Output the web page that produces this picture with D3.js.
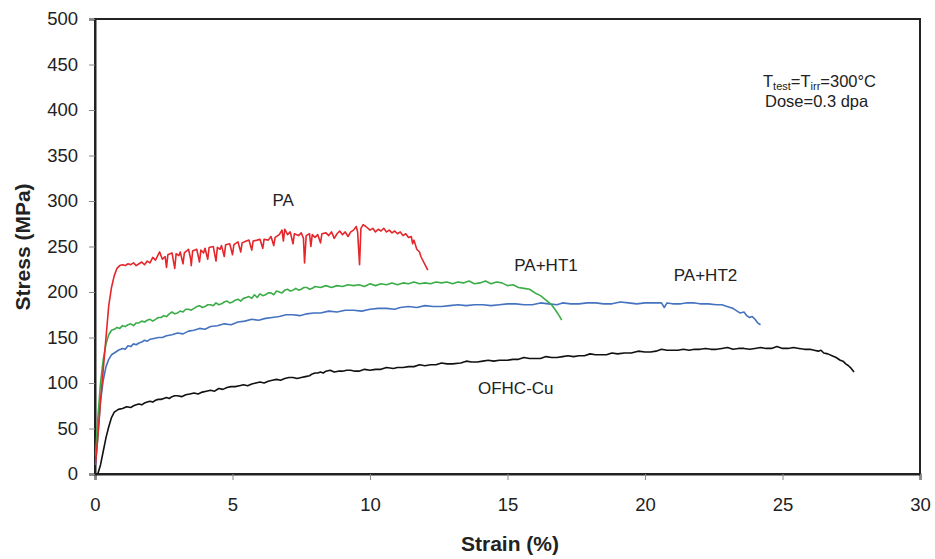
<!DOCTYPE html>
<html>
<head>
<meta charset="utf-8">
<script src="https://cdn.jsdelivr.net/npm/d3@7.8.5/dist/d3.min.js"></script>
<style>
  body { margin: 0; background: #fff; }
  svg { display: block; font-family: "Liberation Sans", Arial, sans-serif; }
</style>
</head>
<body>
<svg width="935" height="559"></svg>
<script>
// [strain %, stress MPa]
const pa = [
  [0.02,12],[0.1,40],[0.2,80],[0.3,115],[0.4,150],[0.5,185],[0.6,205],[0.7,218],[0.8,226],[0.9,229],
  [1.0,230],[1.1,229],[1.2,231],[1.3,230],[1.4,232],[1.5,229],[1.6,231],[1.7,233],[1.8,230],[1.9,234],
  [2.0,232],[2.1,238],[2.2,235],[2.3,241],[2.35,244],[2.45,236],[2.55,239],[2.6,227],[2.65,241],[2.8,243],
  [2.9,226],[2.95,242],[3.05,240],[3.1,244],[3.2,231],[3.25,243],[3.4,247],[3.48,236],[3.5,229],[3.55,245],
  [3.7,247],[3.8,233],[3.85,246],[3.95,243],[4.0,248],[4.1,236],[4.15,249],[4.3,250],[4.4,234],[4.45,249],
  [4.55,247],[4.6,251],[4.7,239],[4.75,252],[4.9,253],[5.0,241],[5.05,252],[5.2,255],[5.3,244],[5.35,254],
  [5.5,256],[5.6,257],[5.7,246],[5.75,256],[5.9,257],[6.0,258],[6.1,248],[6.15,258],[6.3,257],[6.4,261],
  [6.5,251],[6.55,260],[6.7,263],[6.8,268],[6.85,256],[6.9,269],[7.0,263],[7.1,266],[7.2,253],[7.25,264],
  [7.4,262],[7.5,265],[7.58,259],[7.62,232],[7.68,262],[7.8,264],[7.85,250],[7.9,263],[8.0,260],[8.1,263],
  [8.2,254],[8.25,264],[8.4,265],[8.5,262],[8.6,266],[8.7,259],[8.8,264],[8.9,267],[9.0,263],[9.1,266],
  [9.2,261],[9.3,266],[9.4,268],[9.5,272],[9.55,266],[9.62,230],[9.67,270],[9.75,274],[9.85,272],[10.0,268],
  [10.1,270],[10.2,266],[10.3,269],[10.4,267],[10.5,270],[10.6,266],[10.7,268],[10.8,265],[10.9,267],[11.0,264],
  [11.1,266],[11.2,262],[11.3,264],[11.4,260],[11.5,261],[11.55,253],[11.6,257],[11.7,247],[11.8,244],[11.85,239],
  [11.9,236],[12.0,230],[12.1,224]
];

const ht1 = [
  [0.02,20],[0.1,60],[0.2,100],[0.3,126],[0.4,143],[0.5,153],[0.6,158],[0.7,159],[0.8,161],[0.9,160],
  [1.0,163],[1.1,162],[1.2,164],[1.3,165],[1.4,163],[1.5,166],[1.6,166],[1.7,168],[1.8,167],[1.9,169],
  [2.0,170],[2.1,168],[2.2,170],[2.3,172],[2.4,172],[2.5,174],[2.6,173],[2.7,176],[2.8,178],[2.9,176],
  [3.0,177],[3.1,179],[3.2,178],[3.3,181],[3.4,181],[3.5,180],[3.6,182],[3.7,184],[3.8,185],[3.9,183],
  [4.0,184],[4.1,186],[4.2,186],[4.3,185],[4.4,188],[4.5,186],[4.6,187],[4.7,189],[4.8,190],[4.9,188],
  [5.0,189],[5.1,191],[5.2,192],[5.3,190],[5.4,193],[5.5,194],[5.6,195],[5.7,193],[5.8,197],[5.9,194],
  [6.0,198],[6.1,196],[6.2,197],[6.3,199],[6.4,199],[6.5,197],[6.6,201],[6.7,200],[6.8,199],[6.9,202],
  [7.0,203],[7.1,201],[7.2,202],[7.3,204],[7.4,202],[7.5,203],[7.6,205],[7.7,205],[7.8,203],[7.9,204],
  [8.0,206],[8.2,205],[8.4,207],[8.6,205],[8.8,207],[9.0,206],[9.2,208],[9.4,207],[9.6,208],[9.8,206],
  [10.0,209],[10.2,207],[10.4,209],[10.6,208],[10.8,210],[11.0,208],[11.2,210],[11.4,209],[11.6,211],[11.8,209],
  [12.0,210],[12.2,209],[12.4,211],[12.6,210],[12.8,211],[13.0,209],[13.2,211],[13.4,210],[13.6,212],[13.8,209],
  [14.0,210],[14.2,212],[14.4,209],[14.6,211],[14.8,210],[15.0,207],[15.2,208],[15.4,205],[15.6,204],[15.8,203],
  [16.0,199],[16.2,196],[16.4,191],[16.6,186],[16.75,180],[16.9,173],[16.97,169]
];

const ht2 = [
  [0.02,10],[0.1,40],[0.2,80],[0.3,103],[0.4,118],[0.5,126],[0.6,131],[0.7,133],[0.85,136],[1.0,138],
  [1.1,137],[1.2,141],[1.3,140],[1.4,143],[1.5,142],[1.6,144],[1.7,145],[1.8,147],[1.9,146],[2.0,148],
  [2.15,149],[2.3,150],[2.45,150],[2.6,152],[2.8,153],[3.0,155],[3.2,154],[3.4,157],[3.6,158],[3.8,160],
  [4.0,159],[4.2,162],[4.45,163],[4.7,165],[4.95,164],[5.2,167],[5.45,168],[5.7,170],[5.95,169],[6.2,171],
  [6.45,172],[6.7,173],[6.95,175],[7.2,175],[7.45,174],[7.7,176],[7.95,177],[8.2,177],[8.5,179],[8.8,178],
  [9.1,180],[9.4,180],[9.7,179],[10.0,181],[10.3,182],[10.6,182],[10.9,181],[11.1,183],[11.4,184],[11.7,183],
  [12.0,185],[12.3,184],[12.6,184],[12.9,185],[13.2,186],[13.5,185],[13.8,186],[14.1,186],[14.4,185],[14.7,186],
  [15.0,187],[15.3,187],[15.6,186],[15.9,186],[16.2,188],[16.5,187],[16.8,186],[17.0,188],[17.3,187],[17.6,187],
  [17.9,188],[18.2,188],[18.5,187],[18.8,187],[19.1,189],[19.4,188],[19.7,187],[20.0,188],[20.3,188],[20.6,188],
  [20.7,183],[20.8,188],[21.0,187],[21.3,187],[21.5,188],[21.8,188],[22.0,187],[22.3,187],[22.6,186],[22.8,186],
  [22.9,185],[23.1,183],[23.2,182],[23.35,179],[23.45,177],[23.6,178],[23.7,174],[23.8,172],[23.9,173],[24.0,170],
  [24.1,166],[24.2,164]
];

const ofhc = [
  [0.1,0],[0.2,10],[0.3,25],[0.4,40],[0.5,52],[0.6,62],[0.7,68],[0.85,71],[1.0,72],[1.15,74],
  [1.3,73],[1.4,75],[1.5,76],[1.6,77],[1.7,76],[1.8,78],[1.9,79],[2.0,80],[2.1,79],[2.2,81],
  [2.3,82],[2.4,82],[2.5,83],[2.6,84],[2.7,83],[2.8,85],[2.9,86],[3.0,86],[3.15,85],[3.3,87],
  [3.45,88],[3.6,89],[3.75,88],[3.9,90],[4.05,91],[4.2,92],[4.35,91],[4.5,94],[4.65,93],[4.8,95],
  [4.95,96],[5.1,96],[5.25,97],[5.4,98],[5.55,97],[5.7,99],[5.85,100],[6.0,101],[6.15,100],[6.3,102],
  [6.45,103],[6.6,104],[6.75,103],[6.9,105],[7.05,106],[7.2,106],[7.35,105],[7.5,106],[7.65,107],[7.8,108],
  [7.9,110],[8.0,111],[8.1,111],[8.2,112],[8.3,111],[8.4,113],[8.55,114],[8.7,112],[8.85,113],[9.0,113],
  [9.15,114],[9.3,114],[9.45,113],[9.6,113],[9.8,115],[10.0,114],[10.2,115],[10.4,115],[10.6,117],[10.85,116],
  [11.0,117],[11.2,117],[11.4,118],[11.6,118],[11.8,120],[12.0,119],[12.2,120],[12.4,120],[12.6,122],[12.8,121],
  [13.0,121],[13.3,122],[13.5,124],[13.7,123],[13.9,123],[14.1,124],[14.3,125],[14.5,124],[14.7,125],[15.0,125],
  [15.2,126],[15.4,126],[15.6,128],[15.8,127],[16.0,127],[16.2,127],[16.4,129],[16.6,128],[16.8,128],[17.0,129],
  [17.2,130],[17.4,129],[17.6,130],[17.8,130],[18.0,132],[18.2,131],[18.4,131],[18.6,131],[18.8,133],[19.0,132],
  [19.25,133],[19.5,133],[19.75,135],[20.0,134],[20.2,134],[20.4,135],[20.6,137],[20.8,136],[21.0,136],[21.2,136],
  [21.4,137],[21.6,136],[21.8,137],[22.0,137],[22.2,138],[22.4,137],[22.6,137],[22.8,138],[23.0,139],[23.2,137],
  [23.4,138],[23.6,138],[23.8,137],[24.0,138],[24.2,139],[24.4,138],[24.6,138],[24.8,140],[25.0,138],[25.2,138],
  [25.4,139],[25.6,138],[25.8,137],[26.0,137],[26.15,136],[26.3,135],[26.4,136],[26.5,133],[26.65,132],[26.8,130],
  [26.95,128],[27.1,125],[27.2,124],[27.3,121],[27.4,119],[27.5,116],[27.6,112]
];

const series = [
  { name: "OFHC-Cu", data: ofhc, color: "#111111" },
  { name: "PA+HT2", data: ht2, color: "#4573c0" },
  { name: "PA+HT1", data: ht1, color: "#3aad48" },
  { name: "PA", data: pa, color: "#e5262b" }
];

const labels = [
  { text: "PA", x: 6.84, y: 301 },
  { text: "PA+HT1", x: 16.4, y: 230 },
  { text: "PA+HT2", x: 22.2, y: 219 },
  { text: "OFHC-Cu", x: 15.3, y: 94 }
];

const xTicks = [0, 5, 10, 15, 20, 25, 30];
const yTicks = [0, 50, 100, 150, 200, 250, 300, 350, 400, 450, 500];

const margin = { left: 95, top: 19, right: 15, bottom: 85 };
const width = 935, height = 559;

const svg = d3.select("svg");

const x = d3.scaleLinear().domain([0, 30]).range([margin.left, width - margin.right]);
const y = d3.scaleLinear().domain([0, 500]).range([height - margin.bottom, margin.top]);

// frame
svg.append("rect")
  .attr("x", x(0)).attr("y", y(500))
  .attr("width", x(30) - x(0)).attr("height", y(0) - y(500))
  .attr("fill", "none").attr("stroke", "#222").attr("stroke-width", 2);

const xAxis = svg.append("g")
  .attr("transform", `translate(0,${y(0)})`)
  .call(d3.axisBottom(x).tickValues(xTicks).tickSize(6).tickPadding(18));
const yAxis = svg.append("g")
  .attr("transform", `translate(${x(0)},0)`)
  .call(d3.axisLeft(y).tickValues(yTicks).tickSize(6).tickPadding(11));

[xAxis, yAxis].forEach(g => {
  g.select(".domain").attr("stroke", "#222").attr("stroke-width", 2);
  g.selectAll(".tick line").attr("stroke", "#888");
  g.selectAll(".tick text")
    .attr("font-family", "Liberation Sans, Arial, sans-serif")
    .attr("font-size", 18.5).attr("fill", "#222");
});

const line = d3.line().x(d => x(d[0])).y(d => y(d[1]));

svg.append("g").selectAll("path")
  .data(series)
  .join("path")
  .attr("d", d => line(d.data))
  .attr("fill", "none")
  .attr("stroke", d => d.color)
  .attr("stroke-width", 1.6)
  .attr("stroke-linejoin", "round");

svg.append("g").selectAll("text")
  .data(labels)
  .join("text")
  .attr("x", d => x(d.x))
  .attr("y", d => y(d.y))
  .attr("dy", "0.35em")
  .attr("text-anchor", "middle")
  .attr("font-size", 17)
  .attr("fill", "#222")
  .text(d => d.text);

// test conditions note
const note = svg.append("text")
  .attr("x", 763).attr("y", 87)
  .attr("font-size", 16.5).attr("fill", "#222");
note.append("tspan").text("T");
note.append("tspan").attr("font-size", 11).attr("baseline-shift", "-25%").text("test");
note.append("tspan").text("=T");
note.append("tspan").attr("font-size", 11).attr("baseline-shift", "-25%").text("irr");
note.append("tspan").text("=300°C");
svg.append("text")
  .attr("x", 765).attr("y", 107)
  .attr("font-size", 16.5).attr("fill", "#222")
  .text("Dose=0.3 dpa");

// axis titles
svg.append("text")
  .attr("x", 510).attr("y", 551)
  .attr("text-anchor", "middle")
  .attr("font-size", 21).attr("font-weight", "bold").attr("fill", "#222")
  .text("Strain (%)");
svg.append("text")
  .attr("transform", `translate(30,247) rotate(-90)`)
  .attr("text-anchor", "middle")
  .attr("font-size", 21).attr("font-weight", "bold").attr("fill", "#222")
  .text("Stress (MPa)");
</script>
</body>
</html>
